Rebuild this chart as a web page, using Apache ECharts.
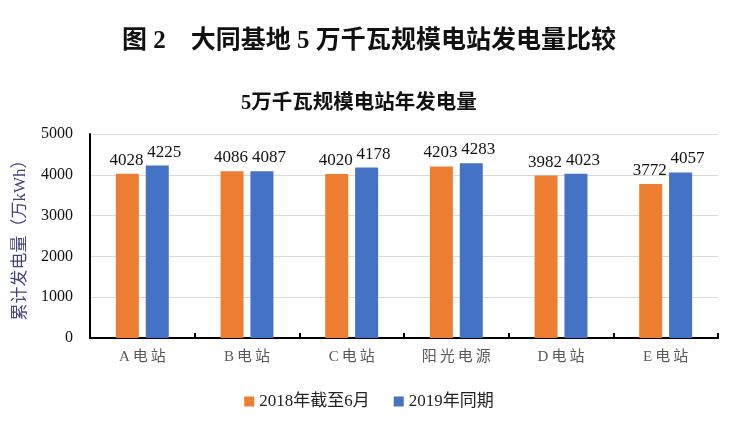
<!DOCTYPE html>
<html>
<head>
<meta charset="utf-8">
<script src="https://cdn.jsdelivr.net/npm/echarts@6/dist/echarts.min.js"></script>
<style>
  html, body { margin: 0; padding: 0; background: #fff; }
  #chart { width: 738px; height: 423px; }
</style>
</head>
<body>
<div id="chart"></div>
<script>
// 5万千瓦规模电站年发电量
const categories = ['A电站', 'B电站', 'C电站', '阳光电源', 'D电站', 'E电站']
const series2018 = [4028, 4086, 4020, 4203, 3982, 3772]
const series2019 = [4225, 4087, 4178, 4283, 4023, 4057]
const seriesNames = ['2018年截至6月', '2019年同期']

const serif = '"Liberation Serif", "Noto Sans CJK SC", serif'

// spread the characters a little, like the original category labels
const spaced = s => s.split('').join('\u2009')

const chart = echarts.init(document.getElementById('chart'))

const labelStyle = { show: true, position: 'top', distance: 5, fontFamily: serif, fontSize: 17, color: '#111' }

chart.setOption({
  animation: false,
  title: [{
    text: '图 2　大同基地 5 万千瓦规模电站发电量比较',
    left: 'center',
    top: 24,
    textStyle: { fontFamily: serif, fontSize: 25, fontWeight: 'bold', color: '#111' }
  }, {
    text: '5万千瓦规模电站年发电量',
    left: 236,
    top: 88,
    textStyle: { fontFamily: serif, fontSize: 20.5, fontWeight: 'bold', color: '#111' }
  }],
  legend: {
    top: 388,
    left: 'center',
    itemWidth: 10,
    itemHeight: 10,
    itemGap: 24,
    icon: 'rect',
    textStyle: { fontFamily: serif, fontSize: 17, color: '#222' },
    data: seriesNames
  },
  grid: {
    left: 90,
    right: 20,
    top: 134,
    bottom: 85
  },
  xAxis: {
    type: 'category',
    data: categories,
    axisLine: { lineStyle: { color: '#000', width: 2 } },
    axisTick: { show: true, inside: true, length: 5, lineStyle: { color: '#000', width: 2 } },
    axisLabel: {
      fontFamily: serif, fontSize: 15, color: '#595959', margin: 12,
      formatter: v => spaced(v)
    }
  },
  yAxis: {
    type: 'value',
    min: 0,
    max: 5000,
    interval: 1000,
    name: '累计发电量（万kWh）',
    nameLocation: 'middle',
    nameGap: 61,
    nameTextStyle: { fontFamily: serif, fontSize: 17, color: '#44447f' },
    axisLine: { show: true, lineStyle: { color: '#000', width: 2 } },
    axisTick: { show: false },
    splitLine: { lineStyle: { color: '#d9d9d9' } },
    axisLabel: {
      fontFamily: serif, fontSize: 16, color: '#111', margin: 17,
      formatter: v => String(v)
    }
  },
  series: [{
    name: seriesNames[0],
    type: 'bar',
    data: series2018,
    barWidth: 23,
    barGap: '30%',
    itemStyle: { color: '#ED7D31' },
    label: { ...labelStyle, offset: [-1, 0] }
  }, {
    name: seriesNames[1],
    type: 'bar',
    data: series2019,
    barWidth: 23,
    itemStyle: { color: '#4472C4' },
    label: { ...labelStyle, offset: [7, 0] }
  }]
})
</script>
</body>
</html>
